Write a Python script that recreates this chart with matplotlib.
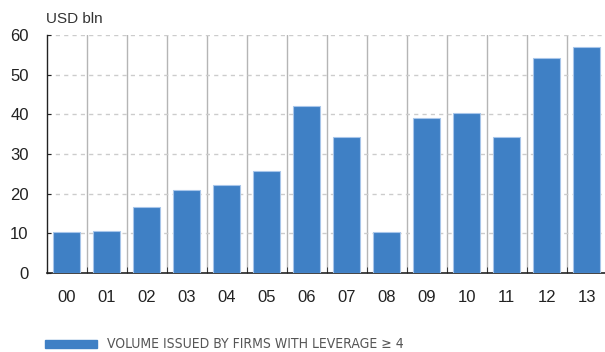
import numpy as np
import matplotlib
matplotlib.use("Agg")
import matplotlib.pyplot as plt
from matplotlib.patches import Rectangle
from matplotlib import font_manager

years = ['00', '01', '02', '03', '04', '05', '06', '07', '08', '09', '10', '11', '12', '13']
volume = [10.3, 10.6, 16.6, 20.9, 22.2, 25.7, 42.1, 34.3, 10.3, 39.1, 40.3, 34.3, 54.2, 57.0]
series_label = 'VOLUME ISSUED BY FIRMS WITH LEVERAGE \u2265 4'

plt.rcParams['font.family'] = ['Liberation Sans', 'DejaVu Sans']

bar_color = '#3f80c5'

# look for a condensed face for the legend text
narrow_file = None
for f in sorted(font_manager.fontManager.ttflist, key=lambda f: f.fname):
    fn = f.fname.lower()
    if ('narrow' in fn or 'condensed' in fn) and 'bold' not in fn and 'oblique' not in fn \
            and 'italic' not in fn and 'mono' not in fn and 'serif' not in fn.replace('sans', ''):
        narrow_file = f.fname
        break
print(narrow_file)

fig = plt.figure(figsize=(6.05, 3.52), dpi=100)
ax = fig.add_axes([46.7 / 605, 79 / 352, (605 - 46.7) / 605, 238 / 352])

x = np.arange(len(years))
ax.bar(x, volume, width=0.68, color=bar_color, edgecolor='#a8c6ea', linewidth=0.8, zorder=3)

ax.set_xlim(-0.5, 13.46)
ax.set_ylim(0, 60)
ax.set_yticks(range(0, 61, 10))
ax.set_xticks(x)
ax.set_xticklabels(years)

# category separators and dashed value grid
for b in np.arange(0.5, 13.5, 1.0):
    ax.axvline(b, color='#b5b5b5', lw=1.0, zorder=1)
for v in range(10, 61, 10):
    ax.axhline(v, color='#cccccc', lw=1.0, ls=(0, (3, 3)), zorder=1)

for s in ['top', 'right']:
    ax.spines[s].set_visible(False)
ax.spines['left'].set_color('#222222')
ax.spines['bottom'].set_color('#222222')
ax.spines['left'].set_linewidth(1.0)
ax.spines['bottom'].set_linewidth(1.2)

ax.tick_params(axis='y', direction='in', length=3, pad=13, labelsize=12,
               labelcolor='#222222', color='#222222')
ax.tick_params(axis='x', length=0, pad=12, labelsize=12, labelcolor='#222222')
ax.set_xticks(np.arange(0.5, 13.5, 1.0), minor=True)
ax.tick_params(axis='x', which='minor', direction='in', length=4, color='#222222')

fig.text(46 / 605, 1 - 19 / 352, 'USD bln', fontsize=11, color='#333333',
         ha='left', va='center')

# legend
fig.patches.append(Rectangle((45 / 605, 1 - 347.5 / 352), 52 / 605, 7.5 / 352,
                             transform=fig.transFigure, color=bar_color))
if narrow_file:
    legend_font = font_manager.FontProperties(fname=narrow_file, size=10)
else:
    legend_font = font_manager.FontProperties(family='Liberation Sans', size=9)
fig.text(107 / 605, 1 - 344 / 352, series_label, fontproperties=legend_font,
         color='#555555', ha='left', va='center')

fig.savefig('out.png', dpi=100)
